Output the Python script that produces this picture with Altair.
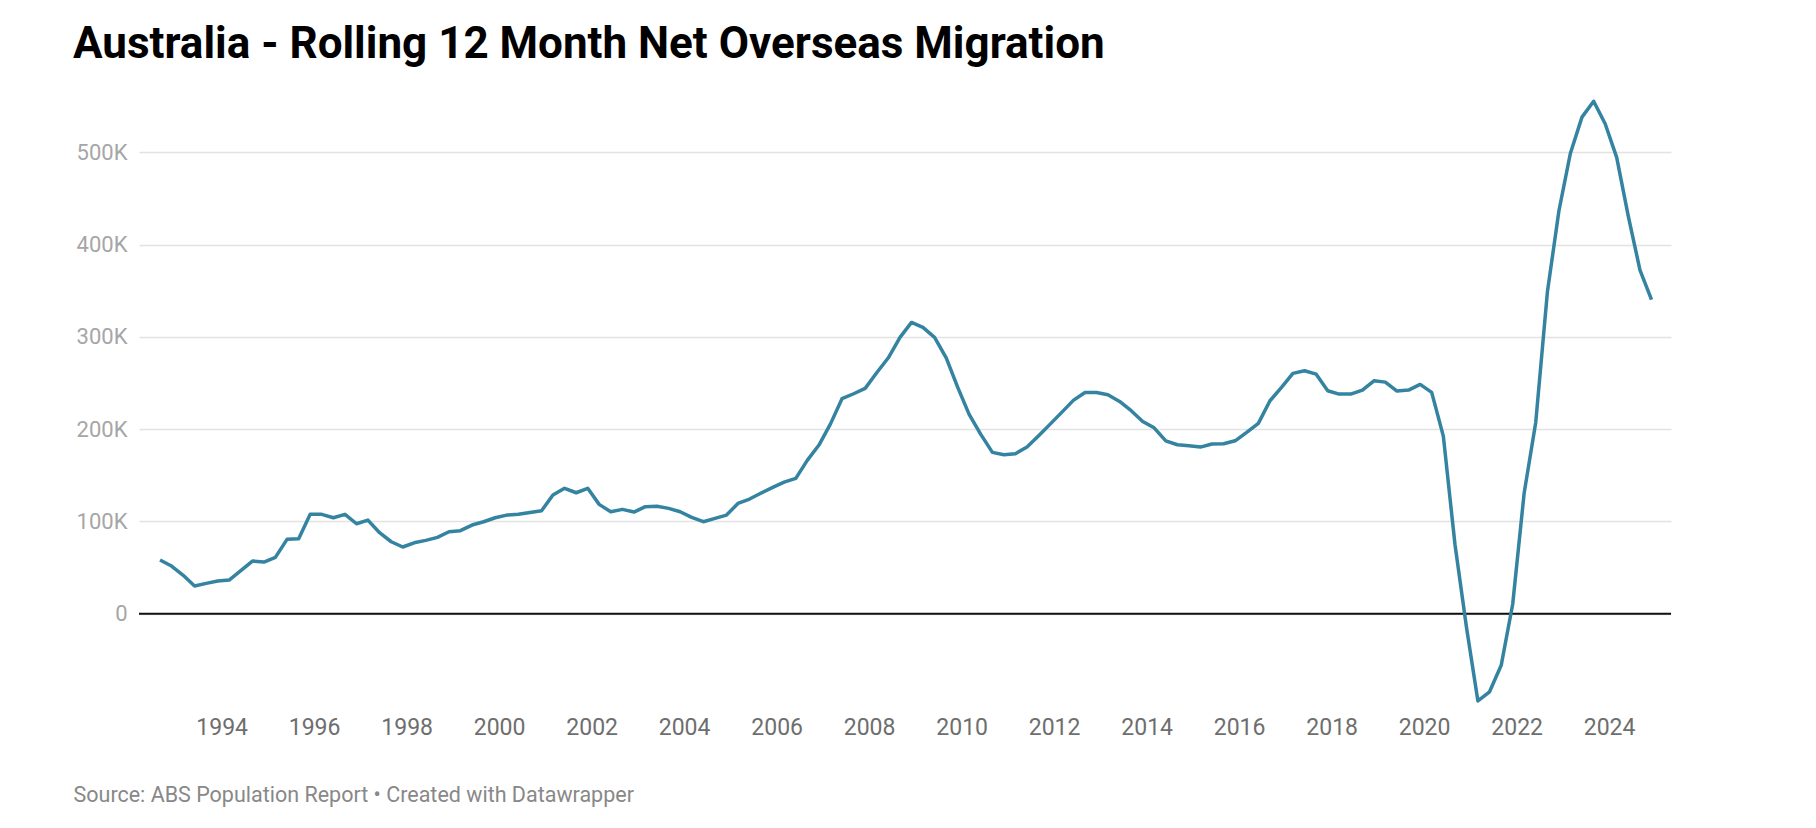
import altair as alt
import pandas as pd

# Quarterly series, first quarter = Sep 1992, last = Dec 2024 (rolling 12-month NOM, thousands)
start_quarter = "1992-09-01"

nom_1990s = [58.2, 51.7, 41.9, 30.0, 32.9, 35.4, 36.5, 46.6, 57.1, 56.0,
             61.1, 80.6, 81.3, 107.7, 107.7, 104.0, 107.7, 97.5, 101.5, 87.8,
             78.0, 72.3, 76.9, 79.5, 82.8, 88.8, 90.0, 96.1, 99.7]
nom_2000s = [104.0, 106.9, 107.7, 109.8, 111.6, 128.6, 135.9, 131.1, 135.9, 118.5,
             110.5, 113.1, 110.2, 116.0, 116.4, 114.2, 110.5, 104.4, 99.7, 103.4,
             106.9, 119.5, 124.3, 130.8, 136.9, 142.7, 146.7, 166.5, 182.8, 205.5,
             233.0, 238.4, 244.2, 261.1, 277.4, 299.5, 315.7, 310.3, 299.5, 277.4]
nom_2010s = [245.3, 216.0, 194.4, 174.9, 172.3, 173.4, 180.6, 192.9, 205.5, 218.2,
             231.2, 239.8, 239.8, 237.3, 230.1, 220.0, 208.4, 201.5, 187.4, 183.1,
             182.0, 180.6, 183.9, 184.2, 187.4, 196.5, 206.3, 230.8, 245.3, 260.5,
             263.3, 259.6, 241.6, 238.0, 238.0, 242.4, 252.4, 251.0, 241.3, 242.4]
nom_2020s = [248.5, 239.9, 192.5, 75.0, -15.0, -94.5, -84.6, -55.9, 10.5, 130.5,
             207.6, 348.9, 436.7, 498.8, 538.2, 555.4, 531.0, 494.5, 430.6, 372.5,
             340.3]

values = nom_1990s + nom_2000s + nom_2010s + nom_2020s
dates = pd.date_range(start_quarter, periods=len(values), freq="3MS").strftime("%Y-%m-%d")

df = pd.DataFrame({"date": dates, "nom": values})

y_ticks = [0, 100, 200, 300, 400, 500]
x_years = list(range(1994, 2025, 2))

title_text = "Australia - Rolling 12 Month Net Overseas Migration"
source_text = "Source: ABS Population Report \u2022 Created with Datawrapper"

x_scale = alt.Scale(
    type="utc",
    domain=[alt.DateTime(year=1992, month=3, date=19, utc=True),
            alt.DateTime(year=2025, month=5, date=4, utc=True)],
)
y_scale = alt.Scale(domain=[-100, 560], nice=False, zero=False)

base = alt.Chart(df)

line = base.mark_line(color="#3383a1", strokeWidth=3.5, strokeJoin="round").encode(
    x=alt.X(
        "date:T",
        scale=x_scale,
        axis=alt.Axis(
            values=[alt.DateTime(year=y, month=1, date=1, utc=True) for y in x_years],
            format="%Y",
            formatType="utc",
            grid=False,
            ticks=False,
            domain=False,
            labelFont="Roboto",
            labelFontSize=23,
            labelColor="#6e6e6e",
            labelPadding=10,
            labelAlign="center",
            labelBaseline="top",
            title=source_text,
            titleFont="Roboto",
            titleFontSize=21.5,
            titleFontWeight="normal",
            titleColor="#888888",
            titleAnchor="start",
            titleAlign="left",
            titleBaseline="alphabetic",
            titleX=-66,
            titleY=95,
        ),
    ),
    y=alt.Y(
        "nom:Q",
        scale=y_scale,
        axis=alt.Axis(
            values=y_ticks,
            labelExpr="datum.value == 0 ? '0' : datum.value + 'K'",
            grid=True,
            gridColor="#e2e2e2",
            gridWidth=1.5,
            ticks=False,
            domain=False,
            labelFont="Roboto",
            labelFontSize=22,
            labelColor="#a6a6a6",
            labelPadding=12,
            labelBaseline="middle",
            title=None,
        ),
    ),
)

zero_rule = alt.Chart(pd.DataFrame({"zero": [0]})).mark_rule(
    color="#111111", strokeWidth=2
).encode(y=alt.Y("zero:Q", scale=y_scale))

chart = (
    alt.layer(zero_rule, line)
    .properties(
        width=1532,
        height=609,
        padding={"left": 131, "top": 89, "right": 40, "bottom": 112},
        autosize=alt.AutoSizeParams(type="none"),
        background="white",
        title=alt.TitleParams(
            text=title_text,
            font="Roboto",
            fontSize=44,
            fontWeight=700,
            color="#000000",
            anchor="start",
            frame="group",
            dx=-66,
            dy=35,
            offset=30,
            baseline="alphabetic",
        ),
    )
    .configure_view(stroke=None)
)

chart.save("out.html", embed_options={"renderer": "svg", "actions": False})
